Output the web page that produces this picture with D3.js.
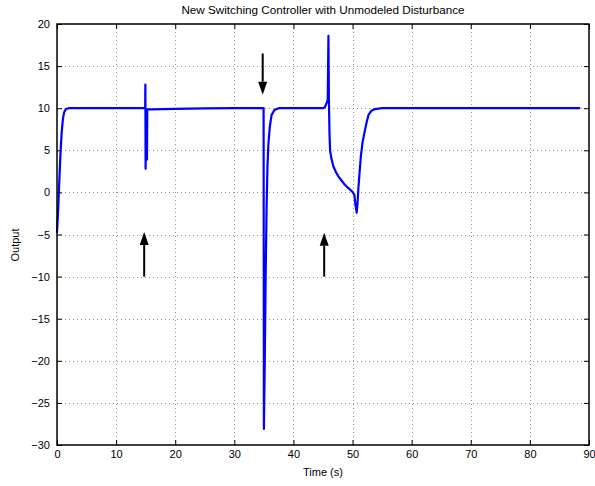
<!DOCTYPE html>
<html>
<head>
<meta charset="utf-8">
<script src="https://cdn.jsdelivr.net/npm/d3@7"></script>
<style>
  html, body { margin: 0; padding: 0; background: #fff; }
  svg { display: block; }
  text { font-family: "Liberation Sans", Arial, Helvetica, sans-serif; }
</style>
</head>
<body>
<script>
// ---- Data ----
const titleText = "New Switching Controller with Unmodeled Disturbance";
const xLabel = "Time (s)";
const yLabel = "Output";
const xTicks = [0, 10, 20, 30, 40, 50, 60, 70, 80, 90];
const yTicks = [-30, -25, -20, -15, -10, -5, 0, 5, 10, 15, 20];

const time = [
  0, 0.2, 0.4, 0.6, 0.8, 1.0, 1.2, 1.5, 2.0, 5, 10, 14.92,
  14.95, 14.99, 15.05, 15.18, 15.22, 15.27, 16, 20, 25, 30, 34.95,
  35.0, 35.15, 35.3, 35.45, 35.6, 35.75, 36.0, 36.3, 36.8, 37.5, 45.0,
  45.3, 45.6, 45.8, 45.92, 46.0, 46.1, 46.2, 46.4, 46.75, 47.2, 47.6,
  48.2, 48.7, 49.3, 49.96, 50.3, 50.5, 50.7, 50.85, 50.97, 51.2, 51.4,
  51.7, 52.1, 52.4, 52.7, 53.2, 53.8, 55, 88.5
];
const output = [
  -4.8, -2.0, 1.5, 4.8, 7.2, 8.7, 9.5, 9.9, 10.0, 10.0, 10.0, 10.0,
  12.8, 2.8, 9.85, 9.85, 3.9, 9.85, 9.87, 9.92, 9.97, 10.0, 10.0,
  -28.1, -20, -10, -2, 3, 5.6, 7.8, 9.2, 9.8, 10.0, 10.0,
  10.1, 10.6, 11.0, 18.6, 11.0, 7.0, 5.0, 4.1, 3.1, 2.4, 1.9,
  1.35, 0.9, 0.5, 0.1, -0.3, -1.5, -2.4, -1.2, 0.3, 2.5, 4.25,
  6.0, 7.4, 8.4, 9.2, 9.7, 9.9, 10.0, 10.0
];

// Annotation arrows: x position, tail y, tip y (data units)
const arrowX    = [14.75, 34.8, 45.2];
const arrowFrom = [-10, 16.5, -10];
const arrowTo   = [-4.7, 11.6, -4.8];

// ---- Layout ----
const W = 595, H = 486;
const margin = { top: 24, right: 6, bottom: 41, left: 57 };
const iw = W - margin.left - margin.right;
const ih = H - margin.top - margin.bottom;

const svg = d3.select("body").append("svg")
  .attr("width", W).attr("height", H);

const g = svg.append("g").attr("transform", `translate(${margin.left},${margin.top})`);

const x = d3.scaleLinear().domain([0, 90]).range([0, iw]);
const y = d3.scaleLinear().domain([-30, 20]).range([ih, 0]);

// Grid
const grid = g.append("g").attr("class", "grid")
  .attr("stroke", "#777").attr("stroke-width", 0.8).attr("stroke-dasharray", "1,3");
grid.selectAll(".gx").data(xTicks.filter(d => d > 0 && d < 90)).enter().append("line")
  .attr("x1", d => Math.round(x(d)) + 0.5).attr("x2", d => Math.round(x(d)) + 0.5)
  .attr("y1", 0).attr("y2", ih);
grid.selectAll(".gy").data(yTicks.filter(d => d > -30 && d < 20)).enter().append("line")
  .attr("y1", d => Math.round(y(d)) + 0.5).attr("y2", d => Math.round(y(d)) + 0.5)
  .attr("x1", 0).attr("x2", iw);

// Axes (ticks inside, on all sides)
const fmt = d => d3.format("d")(d).replace("-", "\u2212");
const tickLen = 5;
const axB = g.append("g").attr("transform", `translate(0,${ih})`)
  .call(d3.axisBottom(x).tickValues(xTicks).tickFormat(fmt).tickSizeInner(-tickLen).tickSizeOuter(0).tickPadding(5));
const axL = g.append("g")
  .call(d3.axisLeft(y).tickValues(yTicks).tickFormat(fmt).tickSizeInner(-tickLen).tickSizeOuter(0).tickPadding(7));
const axT = g.append("g")
  .call(d3.axisTop(x).tickValues(xTicks).tickFormat("").tickSizeInner(-tickLen).tickSizeOuter(0));
const axR = g.append("g").attr("transform", `translate(${iw},0)`)
  .call(d3.axisRight(y).tickValues(yTicks).tickFormat("").tickSizeInner(-tickLen).tickSizeOuter(0));
[axB, axL, axT, axR].forEach(a => {
  a.select(".domain").remove();
  a.selectAll("line").attr("stroke", "#000");
  a.selectAll("text").attr("fill", "#000").attr("font-size", 11)
    .attr("font-family", "'Liberation Sans', Arial, Helvetica, sans-serif");
});

// Data line
const data = time.map((t, i) => [t, output[i]]);
const line = d3.line().x(d => x(d[0])).y(d => y(d[1]));
g.append("path").datum(data)
  .attr("fill", "none").attr("stroke", "#0000ff").attr("stroke-width", 2.2)
  .attr("stroke-linejoin", "round")
  .attr("d", line);

// Box
g.append("rect").attr("x", 0).attr("y", 0).attr("width", iw).attr("height", ih)
  .attr("fill", "none").attr("stroke", "#000").attr("stroke-width", 1.5);

// Arrows
const headLen = 13, headW = 4.5;
arrowX.forEach((ax, i) => {
  const px = x(ax), y0 = y(arrowFrom[i]), y1 = y(arrowTo[i]);
  const dir = y1 < y0 ? -1 : 1; // -1 = pointing up
  const baseY = y1 - dir * headLen;
  g.append("line").attr("x1", px).attr("x2", px).attr("y1", y0).attr("y2", baseY)
    .attr("stroke", "#000").attr("stroke-width", 2);
  g.append("path")
    .attr("d", `M${px},${y1} L${px - headW},${baseY} L${px + headW},${baseY} Z`)
    .attr("fill", "#000");
});

// Title & labels
svg.append("text").attr("x", margin.left + iw / 2).attr("y", 14)
  .attr("text-anchor", "middle").attr("font-size", 11.7).attr("fill", "#000").text(titleText);
svg.append("text").attr("x", margin.left + iw / 2).attr("y", 476)
  .attr("text-anchor", "middle").attr("font-size", 11).attr("fill", "#000").text(xLabel);
svg.append("text").attr("transform", `translate(19,245) rotate(-90)`)
  .attr("text-anchor", "middle").attr("font-size", 11).attr("fill", "#000").text(yLabel);
</script>
</body>
</html>
